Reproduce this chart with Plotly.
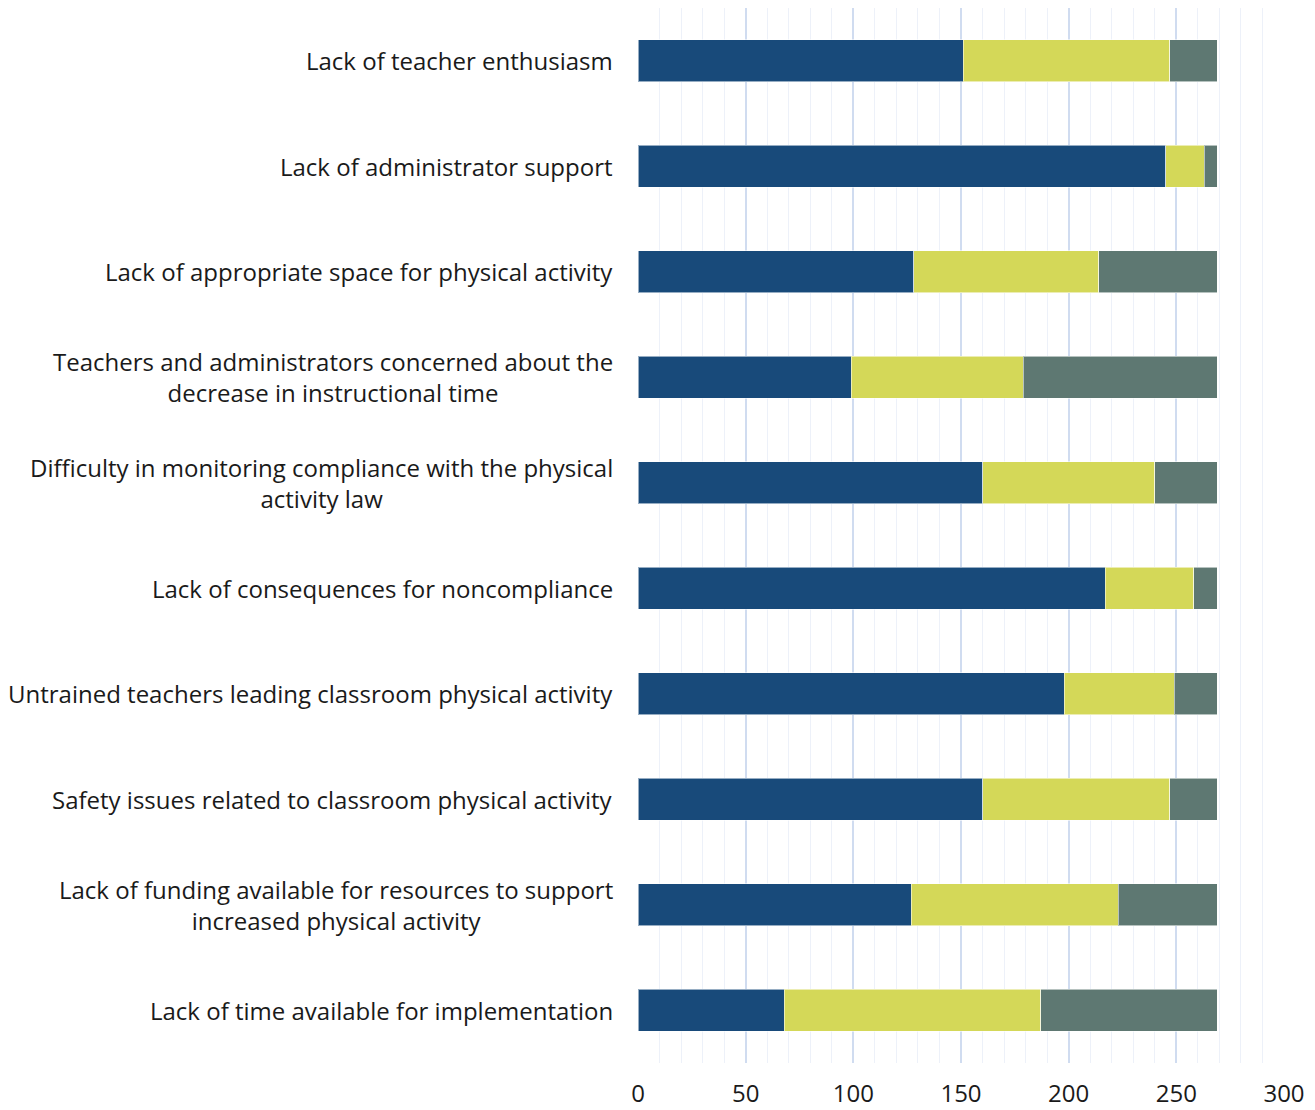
import plotly.graph_objects as go

categories = [
    "Lack of teacher enthusiasm",
    "Lack of administrator support",
    "Lack of appropriate space for physical activity",
    "Teachers and administrators concerned about the<br>decrease in instructional time",
    "Difficulty in monitoring compliance with the physical<br>activity law",
    "Lack of consequences for noncompliance",
    "Untrained teachers leading classroom physical activity",
    "Safety issues related to classroom physical activity",
    "Lack of funding available for resources to support<br>increased physical activity",
    "Lack of time available for implementation",
]
series_a = [151, 245, 128, 99, 160, 217, 198, 160, 127, 68]
series_b = [96, 18, 86, 80, 80, 41, 51, 87, 96, 119]
series_c = [22, 6, 55, 90, 29, 11, 20, 22, 46, 82]
series_names = ["Series 1", "Series 2", "Series 3"]
colors = ["#184A7A", "#D4D858", "#5E7872"]
x_ticks = [0, 50, 100, 150, 200, 250, 300]

fig = go.Figure()
for name, vals, col in zip(series_names, [series_a, series_b, series_c], colors):
    fig.add_trace(go.Bar(
        y=categories, x=vals, name=name, orientation="h",
        marker=dict(color=col, line=dict(color="rgba(255,255,255,0.55)", width=1)),
    ))

for c in categories:
    fig.add_annotation(
        x=0, xref="paper", y=c, yref="y", text=c, showarrow=False,
        xanchor="right", yanchor="middle", align="center", xshift=-23,
        font=dict(family="Open Sans", size=24, color="#1a1a1a"),
    )

fig.update_layout(
    barmode="stack",
    bargap=0.6,
    width=1315, height=1110,
    margin=dict(l=630, r=39, t=0, b=55),
    plot_bgcolor="white", paper_bgcolor="white",
    showlegend=False,
    font=dict(family="Open Sans", size=24, color="#1a1a1a"),
)
fig.update_xaxes(
    range=[0, 300], tickvals=x_ticks, showgrid=True, gridcolor="#D0DCF0", gridwidth=1.5,
    minor=dict(dtick=10, showgrid=True, gridcolor="#EDF1F9", gridwidth=1),
    zeroline=False, showline=False, ticklabelstandoff=14,
    tickfont=dict(family="Open Sans", size=24, color="#1a1a1a"),
)
fig.update_yaxes(
    categoryorder="array", categoryarray=categories, autorange="reversed",
    showticklabels=False, showgrid=False, zeroline=False,
)
fig.write_html("out.html")
